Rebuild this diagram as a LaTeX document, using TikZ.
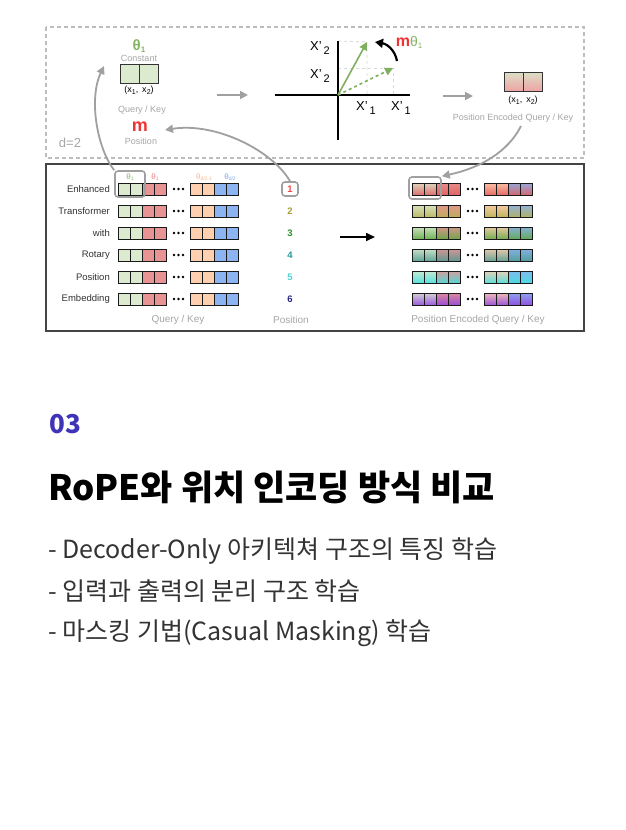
\documentclass[tikz,border=0pt]{standalone}
\usepackage{fontspec}
\setmainfont{Liberation Sans}
\newfontfamily\kr{Noto Sans CJK KR}
\usetikzlibrary{arrows.meta}
\newcommand\fsz[1]{\fontsize{#1}{#1}\selectfont}
\definecolor{lgreen}{HTML}{DCEBD0}
\definecolor{lred}{HTML}{E89494}
\definecolor{lpeach}{HTML}{FFD0B0}
\definecolor{lblue}{HTML}{8CB4F0}
\definecolor{pone}{HTML}{E05A5A}
\definecolor{ptwo}{HTML}{B8B050}
\definecolor{pthree}{HTML}{5CA840}
\definecolor{pfour}{HTML}{4A9A90}
\definecolor{pfive}{HTML}{40E0E0}
\definecolor{psix}{HTML}{9040E0}
\definecolor{thgreen}{HTML}{86B465}
\definecolor{thred}{HTML}{F08484}
\definecolor{thpeach}{HTML}{F8B890}
\definecolor{thblue}{HTML}{7EA6EE}
\definecolor{mred}{HTML}{F03434}
\definecolor{lbl}{HTML}{A6A6A6}
\definecolor{argray}{HTML}{A0A0A0}
\definecolor{frgray}{HTML}{BDBDBD}
\definecolor{frdark}{HTML}{444444}
\definecolor{vgreen}{HTML}{7FAF5F}
\definecolor{numc}{HTML}{3F33B8}
\definecolor{bodyc}{HTML}{333333}
\definecolor{nOne}{HTML}{F04848}
\definecolor{nTwo}{HTML}{A8A030}
\definecolor{nThree}{HTML}{2E922E}
\definecolor{nFour}{HTML}{2A9A9A}
\definecolor{nFive}{HTML}{50D0D0}
\definecolor{nSix}{HTML}{2A2A8A}
\begin{document}
\begin{tikzpicture}[x=1pt,y=-1pt,
  garrow/.style={draw=argray, line width=1.8pt, -{Triangle[length=8pt,width=8pt]}},
  graylbl/.style={text=lbl, font=\fsz{9}, inner sep=0pt},
  rowlbl/.style={text=bodyc, font=\fsz{9.5}, anchor=east, inner sep=0pt},
  numlbl/.style={font=\bfseries\fsz{9.5}, inner sep=0pt},
  hlbox/.style={draw=argray, line width=1.6pt, rounded corners=3pt},
  cellb/.style={draw=black!90, line width=1pt},
  axis/.style={draw=black, line width=1.6pt},
  vec/.style={draw=vgreen, line width=1.6pt, -{Triangle[length=8pt,width=8pt]}},
  guide/.style={draw=black!15, line width=0.9pt, dashed},
  xl/.style={font=\fsz{13}, inner sep=0pt},
  hdr/.style={font=\fsz{8}, inner sep=0pt}]
\useasboundingbox (0,0) rectangle (626,830);
\fill[white] (0,0) rectangle (626,830);

% frames
\draw[draw=frgray, line width=1.8pt, dash pattern=on 4pt off 3pt] (46,27) rectangle (584,158);
\draw[draw=frdark, line width=2pt] (46,164) rectangle (584,331);

% ---------- top panel ----------
\node[text=thgreen, font=\bfseries\fsz{15}, inner sep=0pt] (theta) at (139,46) {θ{\fsz{8}\raisebox{-2pt}{1}}};
\node[graylbl] (const) at (139,58) {Constant};
\node[draw=black!80, line width=1pt, fill=lgreen, minimum width=38pt, minimum height=19pt, inner sep=0pt] (tcell) at (139,73.5) {};
\draw[draw=black!80, line width=1pt] (tcell.north) -- (tcell.south);
\node[font=\fsz{9}, inner sep=0pt] (tx) at (139,90) {(x{\fsz{7}\raisebox{-2pt}{1}}, \,x{\fsz{7}\raisebox{-2pt}{2}})};
\node[graylbl] (qk) at (142,110) {Query / Key};
\node[text=mred, font=\bfseries\fsz{18}, inner sep=0pt] (m) at (140,127) {m};
\node[graylbl] (pos) at (141,141) {Position};
\node[text=lbl, font=\fsz{13}, inner sep=0pt] (d2) at (70,143) {d=2};

\coordinate (ga1s) at (217,95);
\coordinate (ga1e) at (248,95);
\draw[garrow] (ga1s) -- (ga1e);

% axes
\coordinate (O) at (338,95);
\coordinate (vt) at (338,41);
\coordinate (vb) at (338,140);
\coordinate (hl) at (275,95);
\coordinate (hr) at (410,95);
\coordinate (p1) at (367,42);
\coordinate (p2) at (393,68);
\draw[guide] (vt) -- (p1) -- (p1 |- O);
\draw[guide] (O |- p2) -- (p2) -- (p2 |- O);
\draw[axis] (vt) -- (vb);
\draw[axis] (hl) -- (hr);
\draw[vec] (O) -- (p1);
\draw[vec, dashed] (O) -- (p2);
\node[xl] (x2a) at (320,48) {X'{\fsz{11}\raisebox{-4pt}{\,2}}};
\node[xl] (x2b) at (320,76) {X'{\fsz{11}\raisebox{-4pt}{\,2}}};
\node[xl] (x1a) at (366,108) {X'{\fsz{11}\raisebox{-4pt}{\,1}}};
\node[xl] (x1b) at (401,108) {X'{\fsz{11}\raisebox{-4pt}{\,1}}};
\coordinate (rs) at (397,61);
\coordinate (re) at (375,42);
\draw[draw=black, line width=2.2pt, -{Triangle[length=8pt,width=9pt]}] (rs) .. controls (395,50) and (387,44) .. (re);
\node[inner sep=0pt] (mth) at (409,42) {\textcolor{mred}{\bfseries\fsz{16}m}\textcolor{thgreen}{\fsz{14}θ{\fsz{8}\raisebox{-2pt}{1}}}};

\coordinate (ga2s) at (443,96);
\coordinate (ga2e) at (473,96);
\draw[garrow] (ga2s) -- (ga2e);
\node[draw=black!80, line width=1pt, top color=lgreen!92!pone, bottom color=pone!55!white, minimum width=38pt, minimum height=19pt, inner sep=0pt] (pcell) at (523,81.5) {};
\draw[draw=black!80, line width=1pt] (pcell.north) -- (pcell.south);
\node[font=\fsz{9}, inner sep=0pt] (px) at (523,100) {(x{\fsz{7}\raisebox{-2pt}{1}}, \,x{\fsz{7}\raisebox{-2pt}{2}})};
\node[graylbl] (peqk) at (513,118) {Position Encoded Query / Key};

% ---------- bottom panel ----------
\node[hdr, text=thgreen] (h1) at (130,177) {θ{\fsz{5}\raisebox{-1.5pt}{1}}};
\node[hdr, text=thred] (h2) at (155,177) {θ{\fsz{5}\raisebox{-1.5pt}{1}}};
\node[hdr, text=thpeach] (h3) at (204,177) {θ{\fsz{5}\raisebox{-1.5pt}{d/2-1}}};
\node[hdr, text=thblue] (h4) at (230,177) {θ{\fsz{5}\raisebox{-1.5pt}{d/2}}};

\foreach \yc/\lab/\pc/\nc/\nn in {189/Enhanced/pone/nOne/1, 211/Transformer/ptwo/nTwo/2, 233/with/pthree/nThree/3, 255/Rotary/pfour/nFour/4, 277/Position/pfive/nFive/5, 299/Embedding/psix/nSix/6}{
  \node[rowlbl] (rl\nn) at (110,\yc) {\lab};
  % left cells
  \foreach \xs/\cc in {118/lgreen,130/lgreen,142/lred,154/lred,190/lpeach,202/lpeach,214/lblue,226/lblue}{
    \fill[\cc] (\xs,\yc-6) rectangle ++(12,12);
    \draw[cellb] (\xs,\yc-6) rectangle ++(12,12);
  }
  \foreach \dx in {174,178.5,183}{\fill[black] (\dx,\yc) circle (1.4pt);}
  % right cells
  \foreach \xs/\cc in {412/lgreen,424/lgreen,436/lred,448/lred,484/lpeach,496/lpeach,508/lblue,520/lblue}{
    \shade[top color=\cc!85!\pc, bottom color=\cc!15!\pc] (\xs,\yc-6) rectangle ++(12,12);
    \draw[cellb] (\xs,\yc-6) rectangle ++(12,12);
  }
  \foreach \dx in {468,472.5,477}{\fill[black] (\dx,\yc) circle (1.4pt);}
  % position number
  \node[numlbl, text=\nc] (n\nn) at (290,\yc) {\nn};
}

\node[hlbox, minimum width=30pt, minimum height=26pt, inner sep=0pt] (hlL) at (130,184) {};
\node[hlbox, minimum width=16pt, minimum height=14pt, inner sep=0pt] (hlN) at (290,189) {};
\node[hlbox, minimum width=32pt, minimum height=22pt, inner sep=0pt] (hlR) at (425,188) {};

\node[text=lbl, font=\fsz{10}, inner sep=0pt] (bq) at (178,320) {Query / Key};
\node[text=lbl, font=\fsz{10}, inner sep=0pt] (bp) at (291,320) {Position};
\node[text=lbl, font=\fsz{10}, inner sep=0pt] (bpe) at (478,320) {Position Encoded Query / Key};

\coordinate (ba1) at (340,237);
\coordinate (ba2) at (375,237);
\draw[draw=black, line width=1.6pt, -{Triangle[length=9pt,width=8pt]}] (ba1) -- (ba2);

% curved connectors
\coordinate (c1e) at (104,66);
\draw[garrow] (hlL.north west) .. controls (98,150) and (88,100) .. (c1e);
\coordinate (c2e) at (165,130);
\draw[garrow] (hlN.north) .. controls (272,150) and (215,122) .. (c2e);
\coordinate (c3s) at (521,126);
\draw[garrow] (c3s) .. controls (508,152) and (480,168) .. (hlR.north east);

% ---------- text ----------
\node[anchor=west, text=numc, font=\kr\bfseries\fsz{26}, inner sep=0pt] (num) at (49,424) {03};
\node[anchor=west, text=black, font=\kr\bfseries\fsz{35}, inner sep=0pt] (title) at (48,487) {RoPE와 위치 인코딩 방식 비교};
\node[anchor=west, text=bodyc, font=\kr\fsz{25}, inner sep=0pt] (b1) at (48,551) {- Decoder-Only 아키텍쳐 구조의 특징 학습};
\node[anchor=west, text=bodyc, font=\kr\fsz{25}, inner sep=0pt] (b2) at (48,591) {- 입력과 출력의 분리 구조 학습};
\node[anchor=west, text=bodyc, font=\kr\fsz{25}, inner sep=0pt] (b3) at (48,633) {- 마스킹 기법(Casual Masking) 학습};
\end{tikzpicture}
\end{document}
